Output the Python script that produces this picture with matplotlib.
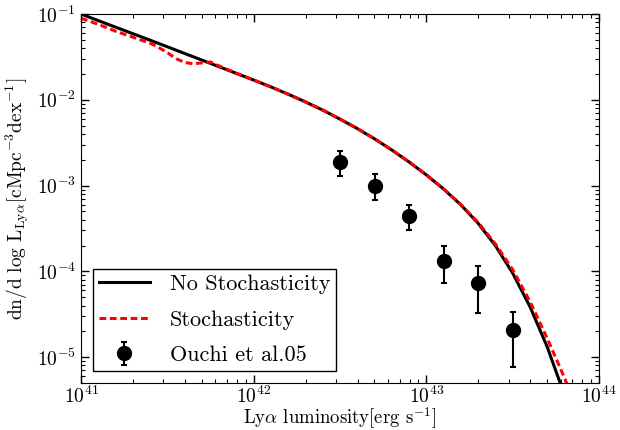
import numpy as np
import matplotlib
matplotlib.use("Agg")
import matplotlib.pyplot as plt

plt.rcParams['font.family'] = 'serif'
plt.rcParams['font.serif'] = ['cmr10', 'DejaVu Serif']
plt.rcParams['mathtext.fontset'] = 'cm'
plt.rcParams['axes.formatter.use_mathtext'] = True

# No stochasticity model (log10 L, log10 phi)
logL_nostoch = [41.0, 41.1, 41.2, 41.3, 41.4, 41.5, 41.6, 41.7, 41.8, 41.9, 42.0,
                42.1, 42.2, 42.3, 42.4, 42.5, 42.6, 42.7, 42.8, 42.9, 43.0,
                43.1, 43.2, 43.3, 43.4, 43.5, 43.6, 43.7, 43.8, 43.9]
logphi_nostoch = [-1.00, -1.077, -1.153, -1.229, -1.305, -1.382, -1.46, -1.537, -1.615, -1.692, -1.77,
                  -1.85, -1.935, -2.025, -2.12, -2.225, -2.335, -2.455, -2.585, -2.725, -2.875,
                  -3.04, -3.225, -3.44, -3.70, -4.02, -4.41, -4.88, -5.44, -6.10]

# Stochasticity model
logL_stoch = [41.0, 41.1, 41.2, 41.3, 41.4, 41.45, 41.5, 41.55, 41.6, 41.65, 41.7, 41.75, 41.8,
              41.9, 42.0, 42.1, 42.2, 42.3, 42.4, 42.5, 42.6, 42.7, 42.8, 42.9, 43.0,
              43.1, 43.2, 43.3, 43.4, 43.5, 43.6, 43.7, 43.8, 43.9]
logphi_stoch = [-1.05, -1.12, -1.20, -1.27, -1.34, -1.39, -1.45, -1.52, -1.565, -1.58, -1.57, -1.56, -1.605,
                -1.692, -1.77, -1.85, -1.935, -2.025, -2.12, -2.225, -2.335, -2.455, -2.585, -2.725, -2.875,
                -3.04, -3.22, -3.43, -3.68, -3.98, -4.35, -4.78, -5.24, -5.75]

# Ouchi et al. 2005 data
L_obs = [10**42.5, 10**42.7, 10**42.9, 10**43.1, 10**43.3, 10**43.5]
phi_obs = [1.9e-3, 1.0e-3, 4.4e-4, 1.33e-4, 7.4e-5, 2.05e-5]
phi_hi = [2.5e-3, 1.35e-3, 5.9e-4, 1.95e-4, 1.15e-4, 3.4e-5]
phi_lo = [1.29e-3, 6.8e-4, 3.0e-4, 7.4e-5, 3.3e-5, 7.6e-6]

fig = plt.figure(figsize=(6.2, 4.3), dpi=100)
ax = fig.add_axes([81/620, 1-383/430, 518/620, 369/430])

ax.plot(10**np.array(logL_nostoch), 10**np.array(logphi_nostoch), color='black', lw=2.2,
        label='No Stochasticity')
ax.plot(10**np.array(logL_stoch), 10**np.array(logphi_stoch), color='red', lw=2.2,
        dashes=(2.2, 1.2), label='Stochasticity')
phi_obs_a = np.array(phi_obs)
yerr = [phi_obs_a - np.array(phi_lo), np.array(phi_hi) - phi_obs_a]
ax.errorbar(L_obs, phi_obs, yerr=yerr, fmt='o', color='black', ms=10, elinewidth=1.5,
            capsize=2, capthick=1.5, label='Ouchi et al.05')

ax.set_xscale('log')
ax.set_yscale('log')
ax.set_xlim(1e41, 1e44)
ax.set_ylim(5e-6, 1e-1)

ax.tick_params(which='both', direction='in', top=True, right=True, labelsize=14)
ax.tick_params(which='major', length=6, width=1)
ax.tick_params(which='minor', length=3, width=0.8)
ax.tick_params(axis='x', pad=2)

ax.set_xlabel(r'Ly$\alpha$ luminosity[erg s$^{-1}$]', fontsize=13.5, labelpad=-1.5)
ax.set_ylabel(r'$\mathrm{dn/d\ \log\,L_{Ly\alpha}[cMpc^{-3}dex^{-1}]}$', fontsize=14, labelpad=4)

leg = ax.legend(loc='lower left', fontsize=16, fancybox=False, edgecolor='black',
                framealpha=1, handlelength=2.3, borderaxespad=0.55, labelspacing=0.72,
                borderpad=0.25, handletextpad=0.9)
leg.get_frame().set_linewidth(1.0)

fig.savefig('out.png', dpi=100)
